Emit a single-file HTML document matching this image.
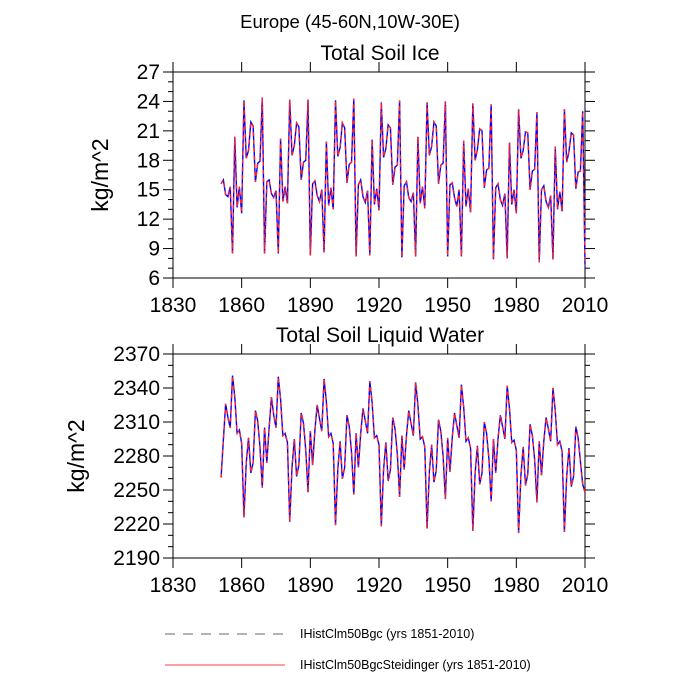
<!DOCTYPE html>
<html><head><meta charset="utf-8">
<style>
body{margin:0;background:#fff;}
svg{display:block;font-family:"Liberation Sans",sans-serif;}
</style></head>
<body>
<svg id="chart" width="700" height="700" viewBox="0 0 700 700">
<text x="350" y="28" text-anchor="middle" font-size="18.5">Europe (45-60N,10W-30E)</text>
<g id="legend">
<line x1="165" y1="634" x2="285" y2="634" stroke="#333" stroke-width="0.8" stroke-dasharray="10 8"/>
<text x="300" y="638" font-size="12.5">IHistClm50Bgc (yrs 1851-2010)</text>
<line x1="165" y1="665" x2="285" y2="665" stroke="#f00" stroke-width="0.8"/>
<text x="300" y="669" font-size="12.5">IHistClm50BgcSteidinger (yrs 1851-2010)</text>
</g>
</svg>
<script>
const startYear = 1851;
const xTicks = [1830, 1860, 1890, 1920, 1950, 1980, 2010];
const iceTicks = [6, 9, 12, 15, 18, 21, 24, 27];
const waterTicks = [2190, 2220, 2250, 2280, 2310, 2340, 2370];
const iceValues = [15.6,16.0,14.5,14.3,15.3,
8.5,20.4,13.2,15.3,12.6,24.1,18.2,19.0,21.9,21.5,15.8,17.7,17.9,24.4,8.5,15.8,16.0,14.6,14.2,14.9,
8.5,20.2,13.8,15.3,13.6,24.2,18.5,19.5,21.8,21.4,16.0,17.8,18.0,24.2,8.3,15.6,15.9,14.4,13.8,15.0,
8.6,19.9,13.4,15.2,13.0,24.1,18.4,19.3,21.8,21.3,15.7,17.6,17.8,24.3,8.2,15.5,16.0,14.3,13.7,14.9,
8.3,20.1,13.5,15.1,12.9,23.9,18.3,19.2,21.6,21.3,15.5,17.3,17.5,24.1,8.1,15.4,15.8,14.2,13.8,14.7,
8.2,20.4,13.6,15.3,13.1,23.9,18.5,19.4,21.9,21.5,15.6,17.5,17.7,24.0,8.2,15.5,15.7,14.2,13.3,15.0,
8.2,20.0,13.3,15.1,12.7,23.8,18.0,19.1,21.2,21.0,15.2,17.0,17.2,23.7,7.9,15.2,15.6,14.0,13.4,14.6,
8.0,19.8,13.5,15.0,12.6,23.2,18.2,19.0,20.9,20.8,15.0,16.9,17.1,22.9,7.6,15.0,15.4,13.8,13.2,14.4,
7.9,19.4,13.0,14.8,12.8,23.2,17.8,18.9,20.8,20.6,15.1,16.8,16.9,23.0,7.4];
const waterValues = [2261,2294,2326,2314,2305,
2351,2332,2300,2303,2291,2226,2274,2296,2265,2274,2320,2311,2288,2252,2305,2274,2305,2332,2316,2305,
2350,2330,2298,2300,2292,2222,2270,2295,2262,2272,2318,2309,2285,2248,2302,2272,2303,2325,2313,2302,
2348,2328,2297,2300,2291,2219,2268,2293,2260,2270,2316,2306,2283,2246,2300,2270,2300,2322,2311,2300,
2346,2327,2296,2298,2290,2218,2268,2292,2258,2268,2314,2304,2282,2244,2298,2268,2298,2320,2309,2298,
2345,2325,2295,2297,2288,2216,2266,2290,2257,2267,2312,2302,2280,2242,2296,2266,2296,2318,2307,2296,
2343,2323,2293,2296,2287,2214,2265,2289,2255,2265,2310,2300,2278,2240,2295,2265,2295,2316,2306,2295,
2342,2322,2292,2294,2285,2212,2263,2288,2254,2264,2308,2298,2277,2239,2293,2263,2293,2314,2304,2293,
2340,2320,2290,2293,2284,2213,2262,2287,2253,2262,2306,2296,2275,2255,2248];

const NS = "http://www.w3.org/2000/svg";
const svg = document.getElementById('chart');
function mk(tag, attrs, parent){const e=document.createElementNS(NS,tag);for(const k in attrs)e.setAttribute(k,attrs[k]);(parent||svg).appendChild(e);return e;}

function panel(cfg){
  const g = mk('g',{});
  
  
  const L=173,R=585,T=cfg.top,B=cfg.bottom;
  const x = v => L + (v-1830)/(2010-1830)*(R-L);
  const y = v => B - (v-cfg.min)/(cfg.max-cfg.min)*(B-T);
  const box = mk('rect',{x:L,y:T,width:R-L,height:B-T,fill:'none',stroke:'#000','stroke-width':1},g);
  
  
  xTicks.forEach(t=>{
    mk('line',{x1:x(t),x2:x(t),y1:B,y2:B+10,stroke:'#000'},g);
    mk('line',{x1:x(t),x2:x(t),y1:T,y2:T-10,stroke:'#000'},g);
    const lb = mk('text',{x:x(t),y:B+34,'text-anchor':'middle','font-size':21},g);
    lb.textContent = t;
    
    
  });
  const step = cfg.ticks[1]-cfg.ticks[0];
  cfg.ticks.forEach((t,i)=>{
    mk('line',{x1:L-10,x2:L,y1:y(t),y2:y(t),stroke:'#000'},g);
    mk('line',{x1:R,x2:R+10,y1:y(t),y2:y(t),stroke:'#000'},g);
    const lb = mk('text',{x:L-13,y:y(t)+7,'text-anchor':'end','font-size':21},g);
    lb.textContent = t;
    
    
    if(i<cfg.ticks.length-1){
      for(let k=1;k<3;k++){const v=t+step*k/3;
        mk('line',{x1:L-5,x2:L,y1:y(v),y2:y(v),stroke:'#000'},g);
        mk('line',{x1:R,x2:R+5,y1:y(v),y2:y(v),stroke:'#000'},g);}
    }
  });
  const tt = mk('text',{x:380,y:T-12,'text-anchor':'middle','font-size':21},g);
  tt.textContent = cfg.title;
  
  
  const yc=(T+B)/2;
  const yt = mk('text',{x:cfg.ytx,y:yc,'text-anchor':'middle','font-size':23,transform:`rotate(-90 ${cfg.ytx} ${yc})`},g);
  yt.textContent = 'kg/m^2';
  
  
  const pts = cfg.values.map((v,i)=>x(startYear+i).toFixed(2)+','+y(v).toFixed(2)).join(' ');
  const b = mk('polyline',{points:pts,fill:'none',stroke:'#00f','stroke-width':1.4},g);
  
  
  const r = mk('polyline',{points:pts,fill:'none',stroke:'#f22','stroke-width':1.4,'stroke-dasharray':'4 4'},g);
  
  
}
panel({name:'soil-ice-panel',title:'Total Soil Ice',top:72,bottom:278,min:6,max:27,ticks:iceTicks,values:iceValues,ytx:108});
panel({name:'soil-water-panel',title:'Total Soil Liquid Water',top:354,bottom:558,min:2190,max:2370,ticks:waterTicks,values:waterValues,ytx:84});
</script>
</body></html>
